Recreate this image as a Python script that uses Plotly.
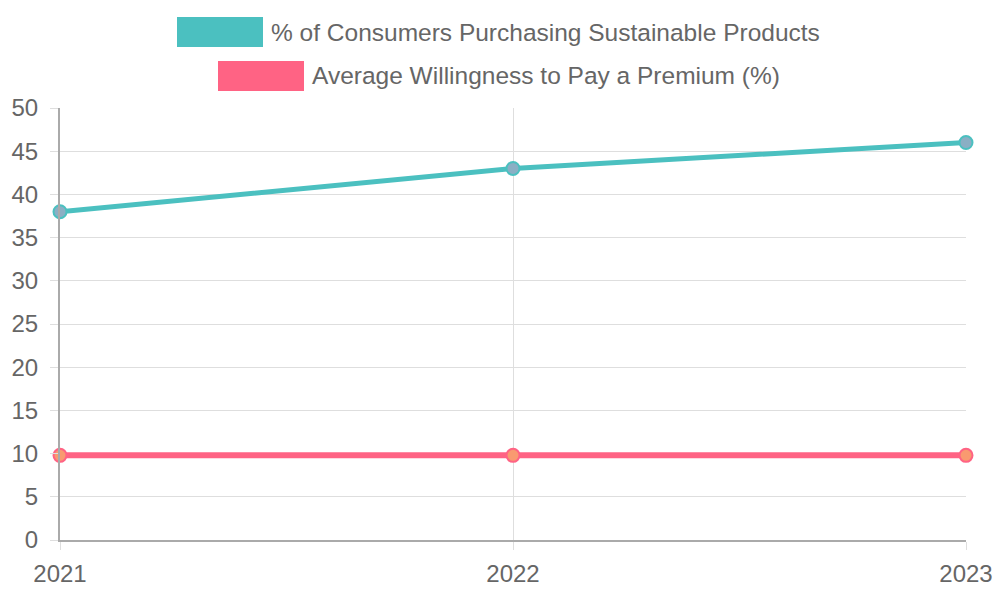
import plotly.graph_objects as go

years = ["2021", "2022", "2023"]
pct_purchasing = [38, 43, 46]
willingness_premium = [9.8, 9.8, 9.8]
series_names = ["% of Consumers Purchasing Sustainable Products",
                "Average Willingness to Pay a Premium (%)"]
line_colors = ["#4BC0C0", "#FF6384"]
marker_fills = ["#8AAFC4", "#F99A70"]
y_ticks = list(range(0, 51, 5))

W, H = 1000, 600
L, R, T, B = 60, 34, 108, 60
pw, ph = W - L - R, H - T - B

def px_x(px):
    return (px - L) / pw

def px_y(py):
    return (H - B - py) / ph

FONT = "Liberation Sans, Arial, sans-serif"

fig = go.Figure()
for vals, name, lc, mf, lw in zip([pct_purchasing, willingness_premium], series_names,
                                  line_colors, marker_fills, [5, 6]):
    fig.add_trace(go.Scatter(
        x=years, y=vals, name=name, mode="lines+markers",
        line=dict(color=lc, width=lw),
        marker=dict(size=13, color=mf, line=dict(color=lc, width=2)),
        cliponaxis=False, showlegend=False, hoverinfo="skip"))

# Manual legend (two centered rows like the original)
legend_rows = [(177, 32), (218, 76)]
for (bx, cy), name, lc in zip(legend_rows, series_names, line_colors):
    fig.add_shape(type="rect", xref="paper", yref="paper",
                  x0=px_x(bx), x1=px_x(bx + 86), y0=px_y(cy - 15), y1=px_y(cy + 15),
                  fillcolor=lc, line=dict(width=0), layer="above")
    fig.add_annotation(xref="paper", yref="paper", x=px_x(bx + 92), y=px_y(cy),
                       xanchor="left", yanchor="middle", text=name, showarrow=False,
                       font=dict(size=24.5, color="#666666", family=FONT))

axis_common = dict(showgrid=True, gridcolor="#DEDEDE", gridwidth=1,
                   showline=True, linecolor="#AAAAAA", linewidth=2,
                   ticks="outside", ticklen=8, tickcolor="#DEDEDE", tickwidth=1,
                   tickfont=dict(size=24, color="#666666", family=FONT),
                   fixedrange=True, automargin=False)

fig.update_layout(
    width=W, height=H, margin=dict(l=L, r=R, t=T, b=B),
    paper_bgcolor="white", plot_bgcolor="white",
    font=dict(family=FONT, size=24, color="#666666"),
    hovermode=False,
    xaxis=dict(type="category", range=[0, 2], ticklabelstandoff=3, **axis_common),
    yaxis=dict(range=[0, 50], tickvals=y_ticks, zeroline=False, ticklabelstandoff=7,
               **axis_common),
)

fig.write_html("out.html", config={"displayModeBar": False})
